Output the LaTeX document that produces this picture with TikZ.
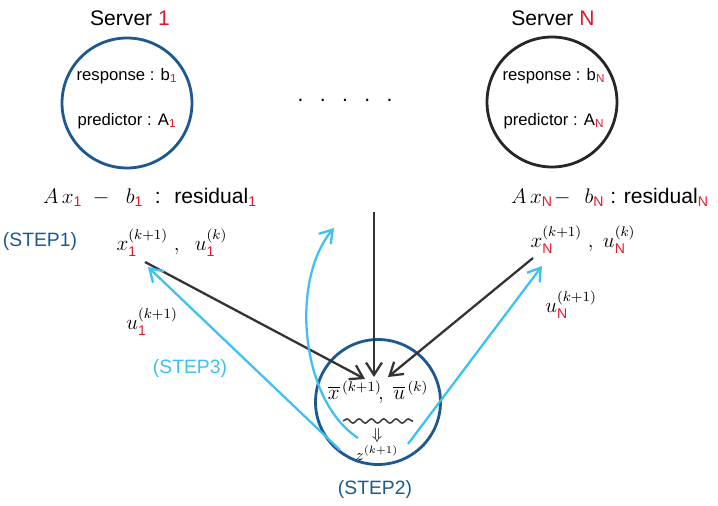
\documentclass[tikz,border=0pt]{standalone}
\usepackage{amsmath}
\usepackage{fontspec}
\setmainfont{Liberation Sans}
\usetikzlibrary{arrows.meta,decorations.pathmorphing}
\definecolor{srvred}{HTML}{E3172D}
\definecolor{darkblue}{HTML}{1D5990}
\definecolor{lightblue}{HTML}{3FC0F3}
\newcommand{\rd}[1]{\textcolor{srvred}{#1}}
\newcommand{\rs}[1]{\textcolor{srvred}{\mathrm{#1}}}

\begin{document}
\begin{tikzpicture}[x=0.02cm, y=-0.02cm,
    >={Straight Barb[length=7pt,width=9pt]},
    server/.style={circle, draw, line width=1.6pt, minimum size=2.6cm},
    label/.style={font=\fontsize{12}{14}\selectfont},
    inner/.style={font=\fontsize{9.5}{11}\selectfont},
    stepname/.style={font=\fontsize{11}{13}\selectfont},
    flow/.style={->, line width=1.3pt, black!80},
    back/.style={->, line width=1.3pt, lightblue}]
    \useasboundingbox (0,0) rectangle (718,506);

    % the two servers
    \node[label] (title1) at (130,18) {Server \rd{1}};
    \node[label] (titleN) at (553,18) {Server \rd{N}};
    \node[server, draw=darkblue] (srv1) at (127,103) {};
    \node[server, draw=black!85] (srvN) at (552,102) {};
    \node[inner] (resp1) at (127,76) {response : b$_{\rs{1}}$};
    \node[inner] (pred1) at (127,121) {predictor : A$_{\rs{1}}$};
    \node[inner] (respN) at (554,76) {response : b$_{\rs{N}}$};
    \node[inner] (predN) at (554,121) {predictor : A$_{\rs{N}}$};
    \node[label] (dots) at (345,100) {.\enspace\ .\enspace\ .\enspace\ .\enspace\ .};

    % residuals and local updates
    \node[label] (res1) at (150,197) {$A\,x_{\rs{1}}\; -\;\; b_{\rs{1}}$\; : \;residual$_{\rs{1}}$};
    \node[label] (resN) at (610,197) {$A\,x_{\rs{N}}\!-\;\, b_{\rs{N}}$ : residual$_{\rs{N}}$};
    \node[stepname, text=darkblue] (step1) at (40,242) {(STEP1)};
    \node[label] (loc1) at (172,243) {$x_{\rs{1}}^{(k+1)}\;,\;\; u_{\rs{1}}^{(k)}$};
    \node[label] (locN) at (583,240) {$x_{\rs{N}}^{(k+1)}\;,\; u_{\rs{N}}^{(k)}$};
    \node[label] (dual1) at (152,322) {$u_{\rs{1}}^{(k+1)}$};
    \node[label] (dualN) at (571,305) {$u_{\rs{N}}^{(k+1)}$};
    \node[stepname, text=lightblue] (step3) at (190,369) {(STEP3)};

    % averaging at the center
    \node[server, draw=darkblue, minimum size=2.5cm] (ctr) at (378,402) {};
    \node[label] (avg) at (378,392) {$\overline{x}^{\,(k+1)}\!,\; \overline{u}^{\,(k)}$};
    \draw[line width=0.9pt, black!75, decorate,
        decoration={snake, amplitude=1.2pt, segment length=7pt}]
        (343,421) -- (413,421);
    \node[font=\small] (down) at (377,436) {$\Downarrow$};
    \node[font=\small] (zed) at (377,453) {$z^{(k+1)}$};
    \node[stepname, text=darkblue] (step2) at (375,490) {(STEP2)};

    \coordinate (out1) at (145,262);
    \coordinate (outN) at (533,258);
    \coordinate (top) at (374,212);
    \coordinate (in1) at (365,379);
    \coordinate (inc) at (374,377);
    \coordinate (inN) at (388,377);
    \draw[flow] (out1) -- (in1);
    \draw[flow] (top) -- (inc);
    \draw[flow] (outN) -- (inN);

    \coordinate (ret1) at (340,450);
    \coordinate (retN) at (408,444);
    \coordinate (loop) at (358,438);
    \coordinate (tip1) at (148,267);
    \coordinate (tipN) at (542,266);
    \coordinate (tipc) at (334,228);
    \draw[back] (ret1) -- (tip1);
    \draw[back] (retN) -- (tipN);
    \draw[back] (loop) .. controls (300,400) and (290,280) .. (tipc);
\end{tikzpicture}
\end{document}
